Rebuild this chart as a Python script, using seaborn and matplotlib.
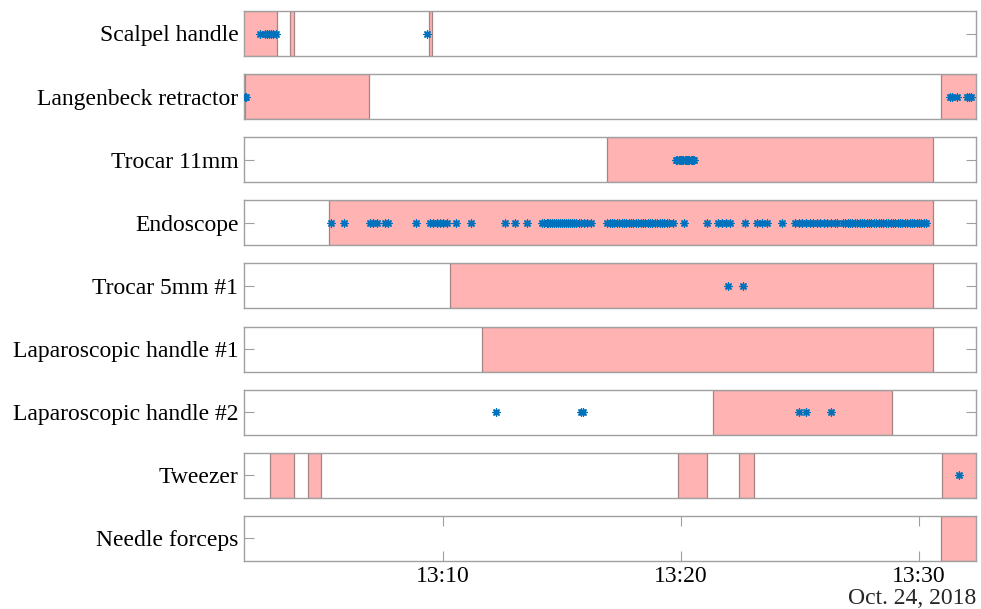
import numpy as np
import pandas as pd
import matplotlib
matplotlib.use("Agg")
import matplotlib.pyplot as plt
import matplotlib.dates as mdates
import seaborn as sns

# ---------------- data (minutes after 13:00, Oct. 24, 2018) ----------------
instruments = ["Scalpel handle", "Langenbeck retractor", "Trocar 11mm", "Endoscope",
               "Trocar 5mm #1", "Laparoscopic handle #1", "Laparoscopic handle #2",
               "Tweezer", "Needle forceps"]

scalpel_spans = [(1.55, 3.03), (3.57, 3.73), (9.42, 9.53)]
scalpel_points = [2.31, 2.52, 2.60, 2.68, 2.76, 2.84, 2.98, 9.32]

langenbeck_spans = [(1.70, 6.90), (30.90, 32.6)]
langenbeck_points = [1.68, 1.72, 31.30, 31.40, 31.58, 32.00, 32.10, 32.17]

trocar11_spans = [(16.90, 30.59)]
trocar11_points = [19.80, 19.85, 19.90, 19.95, 20.00, 20.05, 20.10, 20.15, 20.20,
                   20.25, 20.30, 20.35, 20.40, 20.45, 20.50, 20.55]

endoscope_spans = [(5.21, 30.59)]
endoscope_points = [5.28, 5.84, 6.93, 7.06, 7.23, 7.56, 7.69, 8.85, 9.45, 9.58, 9.74,
                    9.87, 10.00, 10.16, 10.55, 11.18, 12.61, 13.03, 13.52,
                    14.15, 14.25, 14.35, 14.42, 14.50, 14.58, 14.66, 14.75, 14.82,
                    14.90, 15.00, 15.08, 15.15, 15.25, 15.33, 15.42, 15.50, 15.60,
                    15.70, 15.80, 15.92, 16.05, 16.20,
                    16.90, 17.00, 17.10, 17.20, 17.30, 17.40, 17.50, 17.60, 17.70,
                    17.80, 17.90, 18.00, 18.10, 18.20, 18.30, 18.40, 18.50, 18.60,
                    18.70, 18.80, 18.90, 19.00, 19.10, 19.20, 19.30, 19.40, 19.50,
                    19.65, 20.13, 21.09, 21.55, 21.72, 21.89, 22.06, 22.69,
                    23.19, 23.40, 23.61, 24.24,
                    24.80, 24.95, 25.10, 25.25, 25.40, 25.55, 25.70, 25.85, 26.00,
                    26.15, 26.30, 26.45, 26.55,
                    26.80, 26.90, 27.00, 27.10, 27.20, 27.30, 27.40, 27.50, 27.60,
                    27.70, 27.80, 27.90, 28.00, 28.10, 28.20, 28.30, 28.40, 28.50,
                    28.60, 28.70, 28.80, 28.90, 29.00, 29.10, 29.20, 29.30, 29.40,
                    29.50, 29.60, 29.70, 29.80, 29.90, 30.00, 30.10, 30.20, 30.30]

trocar5_spans = [(10.29, 30.59)]
trocar5_points = [21.97, 22.61]

laphandle1_spans = [(11.64, 30.59)]
laphandle1_points = []

laphandle2_spans = [(21.36, 28.85)]
laphandle2_points = [12.23, 15.80, 15.89, 24.96, 25.25, 26.30]

tweezer_spans = [(2.74, 3.75), (4.34, 4.86), (19.89, 21.11), (22.45, 23.08), (30.98, 32.6)]
tweezer_points = [31.69]

needle_spans = [(30.92, 32.6)]
needle_points = []

all_spans = [scalpel_spans, langenbeck_spans, trocar11_spans, endoscope_spans,
             trocar5_spans, laphandle1_spans, laphandle2_spans, tweezer_spans, needle_spans]
all_points = [scalpel_points, langenbeck_points, trocar11_points, endoscope_points,
              trocar5_points, laphandle1_points, laphandle2_points, tweezer_points, needle_points]

x_range = (1.64, 32.39)
tick_minutes = [10, 20, 30]
date_label = "Oct. 24, 2018"

# ---------------- plotting ----------------
base = pd.Timestamp("2018-10-24 13:00:00")
def to_time(m):
    return base + pd.to_timedelta(np.asarray(m, dtype=float), unit="m")

sns.set_theme(style="white")
plt.rcParams["font.family"] = ["Liberation Serif", "DejaVu Serif"]
FS = 17
plt.rcParams["font.size"] = FS

W, H = 981, 609
fig = plt.figure(figsize=(W / 100, H / 100), dpi=100)

left_px, right_px = 244, 976
top0, pitch, h_px = 11, 63.1, 45
spine_col = "#a0a0a0"
face_col = "#ffb3b3"
edge_col = "#a48484"
mark_col = "#0072bd"

xlo, xhi = to_time([x_range[0], x_range[1]])

for i, name in enumerate(instruments):
    top = top0 + i * pitch
    rect = [left_px / W, 1 - (top + h_px) / H, (right_px - left_px) / W, h_px / H]
    ax = fig.add_axes(rect)
    ax.set_xlim(xlo, xhi)
    ax.set_ylim(-1, 1)
    for (a, b) in all_spans[i]:
        ta, tb = to_time([a, b])
        ax.axvspan(ta, tb, facecolor=face_col, edgecolor=edge_col, linewidth=0.9, zorder=1)
    pts = all_points[i]
    if len(pts):
        df = pd.DataFrame({"t": to_time(pts), "y": np.zeros(len(pts))})
        sns.scatterplot(data=df, x="t", y="y", ax=ax, marker=(8, 2, 0), s=26,
                        color=mark_col, edgecolor=mark_col, linewidth=1.0, zorder=3)
    ax.set_xlabel("")
    ax.set_ylabel("")
    ax.set_yticks([0])
    ax.set_yticklabels([name])
    ax.tick_params(axis="y", direction="in", length=7, width=0.8, color=spine_col,
                   left=True, right=True, labelsize=FS, pad=4, labelcolor="black")
    for s in ax.spines.values():
        s.set_color(spine_col)
        s.set_linewidth(1.0)
    if i == len(instruments) - 1:
        ax.set_xticks(to_time(tick_minutes))
        ax.xaxis.set_major_formatter(mdates.DateFormatter("%H:%M"))
        ax.tick_params(axis="x", direction="in", length=7, width=0.8, color=spine_col,
                       bottom=True, top=True, labelsize=FS, pad=4, labelcolor="black")
    else:
        ax.set_xticks([])
    ax.grid(False)

fig.text(right_px / W, 1 - 604 / H, date_label, ha="right", va="baseline", fontsize=FS)

fig.savefig("out.png", dpi=100)
